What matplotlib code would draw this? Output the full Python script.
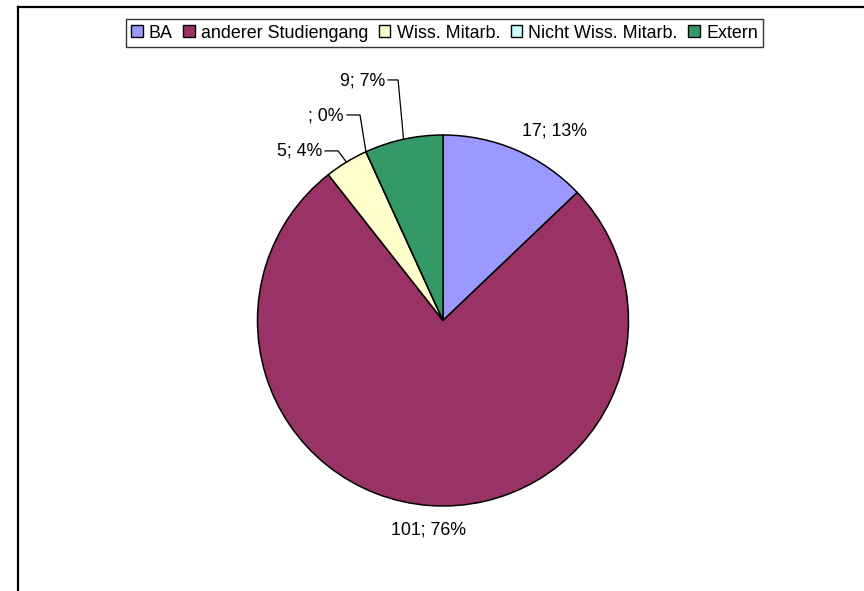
import matplotlib
matplotlib.use("Agg")
import matplotlib.pyplot as plt
from matplotlib.patches import Patch
from matplotlib.lines import Line2D
import numpy as np

# ---- data ----
categories = ["BA", "anderer Studiengang", "Wiss. Mitarb.", "Nicht Wiss. Mitarb.", "Extern"]
values = [17, 101, 5, 0, 9]
value_texts = ["17", "101", "5", "", "9"]
percent_texts = ["13%", "76%", "4%", "0%", "7%"]
colors = ["#9999FF", "#993366", "#FFFFCC", "#CCFFFF", "#339966"]

plt.rcParams['font.family'] = ['Liberation Sans', 'DejaVu Sans']
FS = 12.8

W, H = 864, 591
fig = plt.figure(figsize=(W / 100, H / 100), dpi=100)
fig.patch.set_facecolor('white')
CX, CY, R = 443, 320.5, 185.5
ax = fig.add_axes([0, 0, 1, 1])

wedges, _ = ax.pie(values, colors=colors, startangle=90, counterclock=False,
                   radius=1, wedgeprops=dict(edgecolor='black', linewidth=1.1))
ax.set_aspect('auto')
ax.set_xlim(-CX / R, (W - CX) / R)
ax.set_ylim((CY - H) / R, CY / R)
ax.axis('off')

# label layout: (mode, params)
layout = [
    ("radial", dict(r=1.082, ha='left', va='baseline')),
    ("radial", dict(r=1.085, ha='center', va='top')),
    ("leader", dict(elbow=(-8.4, -11.2), start=-21.4, text=-24.4, dy=0.5)),
    ("leader", dict(elbow=(-5.9, -36.8), start=-18.9, text=-22.9, dy=1.5)),
    ("leader", dict(elbow=(-5.5, -59.3), start=-15.5, text=-18.5, dy=1.5)),
]

for i, w in enumerate(wedges):
    ang = np.deg2rad((w.theta1 + w.theta2) / 2)
    label = f"{value_texts[i]}; {percent_texts[i]}"
    mode, p = layout[i]
    if mode == "radial":
        ax.text(p['r'] * np.cos(ang), p['r'] * np.sin(ang), label,
                ha=p['ha'], va=p['va'], fontsize=FS, color='black')
    else:
        ex, ey = np.cos(ang), np.sin(ang)
        bx = ex + p['elbow'][0] / R
        by = ey - p['elbow'][1] / R
        sx = ex + p['start'] / R
        ax.plot([ex, bx, sx], [ey, by, by], color='black', lw=0.9,
                solid_joinstyle='miter')
        ax.text(ex + p['text'] / R, by - p['dy'] / R, label,
                ha='right', va='center', fontsize=FS, color='black')

# legend
handles = [Patch(facecolor=c, edgecolor='black', linewidth=1.0) for c in colors]
leg = fig.legend(handles, categories, loc='center', ncol=5,
                 bbox_to_anchor=(444.5 / W, 1 - 33 / H),
                 fontsize=12.9, frameon=True, fancybox=False,
                 handlelength=0.63, handleheight=0.63, handletextpad=0.35,
                 columnspacing=0.6, borderpad=0.3, borderaxespad=0)
leg.get_frame().set_edgecolor('black')
leg.get_frame().set_linewidth(1.0)

# outer chart frame (top and left visible)
fig.add_artist(Line2D([18 / W, 1], [1 - 7 / H, 1 - 7 / H], transform=fig.transFigure,
                      color='black', lw=1.6))
fig.add_artist(Line2D([18 / W, 18 / W], [1 - 7 / H, 0], transform=fig.transFigure,
                      color='black', lw=1.6))

fig.savefig("out.png", dpi=100, facecolor='white')
